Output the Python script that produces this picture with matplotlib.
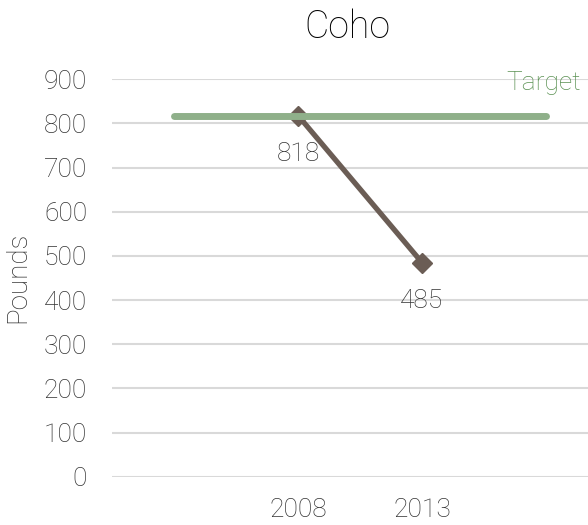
import matplotlib
matplotlib.use("Agg")
import matplotlib.pyplot as plt

plt.rcParams['font.family'] = ['Roboto', 'DejaVu Sans']
plt.rcParams['font.weight'] = 'light'

categories = ["", "2008", "2013", ""]
years = ["2008", "2013"]
pounds = [818, 485]
target = 818
yticks = [0, 100, 200, 300, 400, 500, 600, 700, 800, 900]

text_col = "#333333"
line_col = "#6b5d55"
target_col = "#8fb08a"
target_text_col = "#5a9152"
grid_col = "#d9d9d9"

fig = plt.figure(figsize=(5.88, 5.25), dpi=100)
ax = fig.add_axes([112/588, (525-476.7)/525, (588-112)/588, (476.7-79.3)/525])

xpos = [categories.index(y) for y in years]
ax.plot(xpos, pounds, color=line_col, lw=3.8, marker='D', markersize=10,
        markerfacecolor=line_col, markeredgecolor=line_col, zorder=3,
        solid_capstyle='butt')
ax.plot([0, len(categories) - 1], [target, target], color=target_col, lw=5,
        solid_capstyle='round', zorder=4)

for x, v in zip(xpos, pounds):
    ax.annotate(f"{v}", (x, v), xytext=(0, -28), textcoords='offset points',
                ha='center', va='center', fontsize=19, color=text_col,
                zorder=5)

fig.text(581/588, 1 - 90/525, "Target", ha='right', va='baseline', fontsize=19,
         color=target_text_col)

ax.set_ylim(0, 900)
ax.set_xlim(-0.5, 3.5 - 20/124)
ax.set_yticks(yticks)
ax.set_yticklabels([str(t) for t in yticks], fontsize=19, color=text_col)
ax.set_xticks(xpos)
ax.set_xticklabels(years, fontsize=19, color=text_col)
ax.tick_params(axis='both', length=0)
ax.tick_params(axis='y', pad=18)
ax.tick_params(axis='x', pad=15)
ax.grid(axis='y', color=grid_col, lw=1.5)
ax.set_axisbelow(True)
for s in ax.spines.values():
    s.set_visible(False)

fig.text(18/588, 1 - 277/525, "Pounds", rotation=90, ha='center', va='center',
         fontsize=20, color=text_col)
fig.text(347/588, 1 - 27/525, "Coho", ha='center', va='center', fontsize=27,
         color='black')

fig.savefig("out.png", dpi=100)
